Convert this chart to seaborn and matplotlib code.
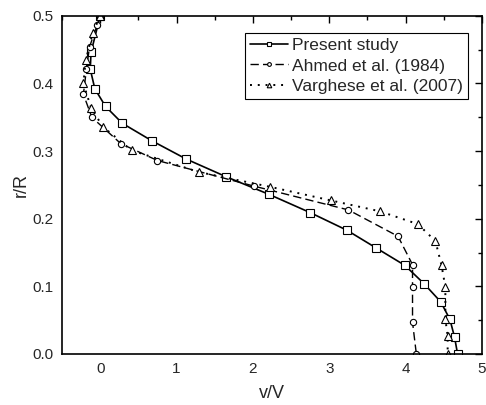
import matplotlib
matplotlib.use("Agg")
import matplotlib.pyplot as plt
import seaborn as sns
import pandas as pd
from matplotlib.ticker import MultipleLocator

sns.set_theme(style="white")
plt.rcParams['font.family'] = ['Liberation Sans', 'DejaVu Sans']

# Present study
present_v = [0.0, -0.12, -0.13, -0.07, 0.07, 0.29, 0.68, 1.13, 1.65, 2.21, 2.75, 3.23, 3.61, 3.99, 4.24, 4.46, 4.58, 4.64, 4.68]
present_r = [0.5, 0.446, 0.421, 0.392, 0.366, 0.341, 0.315, 0.288, 0.262, 0.236, 0.209, 0.183, 0.157, 0.131, 0.104, 0.077, 0.051, 0.025, 0.0]

# Ahmed et al. (1984)
ahmed_v = [0.0, -0.04, -0.14, -0.18, -0.22, -0.11, 0.27, 0.75, 2.02, 3.25, 3.90, 4.09, 4.09, 4.09, 4.14]
ahmed_r = [0.5, 0.486, 0.454, 0.421, 0.384, 0.350, 0.311, 0.286, 0.248, 0.213, 0.174, 0.132, 0.099, 0.047, 0.0]

# Varghese et al. (2007)
varg_v = [0.0, -0.10, -0.19, -0.22, -0.12, 0.035, 0.41, 1.29, 2.23, 3.02, 3.66, 4.16, 4.39, 4.47, 4.52, 4.52, 4.55, 4.55]
varg_r = [0.5, 0.474, 0.434, 0.400, 0.364, 0.336, 0.301, 0.269, 0.247, 0.227, 0.211, 0.192, 0.167, 0.131, 0.099, 0.051, 0.027, 0.0]

labels = ["Present study", "Ahmed et al. (1984)", "Varghese et al. (2007)"]

fig = plt.figure(figsize=(4.86, 4.05), dpi=100)
ax = fig.add_axes([0.1276, 0.126, 0.8642, 0.835])

series = [
    (present_v, present_r, labels[0], '-', 's', 5.5, 1.2),
    (ahmed_v, ahmed_r, labels[1], (0, (6, 3)), 'o', 4.5, 1.0),
    (varg_v, varg_r, labels[2], (0, (1, 3)), '^', 5.5, 1.4),
]
for v, r, lab, ls, mk, ms, lw in series:
    df = pd.DataFrame({"v": v, "r": r})
    sns.lineplot(data=df, x="v", y="r", sort=False, estimator=None, ax=ax,
                 color="black", linestyle=ls, linewidth=lw, marker=mk,
                 markersize=ms, markerfacecolor="white", markeredgecolor="black",
                 markeredgewidth=0.8, label=lab)

ax.set_xlim(-0.5, 5)
ax.set_ylim(0, 0.5)
ax.xaxis.set_major_locator(MultipleLocator(1))
ax.xaxis.set_minor_locator(MultipleLocator(0.5))
ax.yaxis.set_major_locator(MultipleLocator(0.1))
ax.yaxis.set_minor_locator(MultipleLocator(0.05))
ax.yaxis.set_major_formatter(matplotlib.ticker.FormatStrFormatter('%.1f'))
ax.tick_params(which='both', direction='in', top=True, right=True, color='black')
ax.tick_params(which='major', length=5, width=1, labelsize=11, pad=6)
ax.tick_params(which='minor', length=3, width=1)
for s in ax.spines.values():
    s.set_color('black')
    s.set_linewidth(1.2)
ax.set_xlabel("v/V", fontsize=13, labelpad=6)
ax.set_ylabel("r/R", fontsize=13, labelpad=2)

leg = ax.legend(loc='upper right', bbox_to_anchor=(0.975, 0.96), fontsize=12.5,
                frameon=True, fancybox=False, edgecolor='black', framealpha=1,
                handlelength=2.2, handletextpad=0.2, borderpad=0.3, labelspacing=0.3,
                borderaxespad=0.2, markerscale=0.6)
leg.get_frame().set_linewidth(0.8)

fig.savefig("out.png", dpi=100)
